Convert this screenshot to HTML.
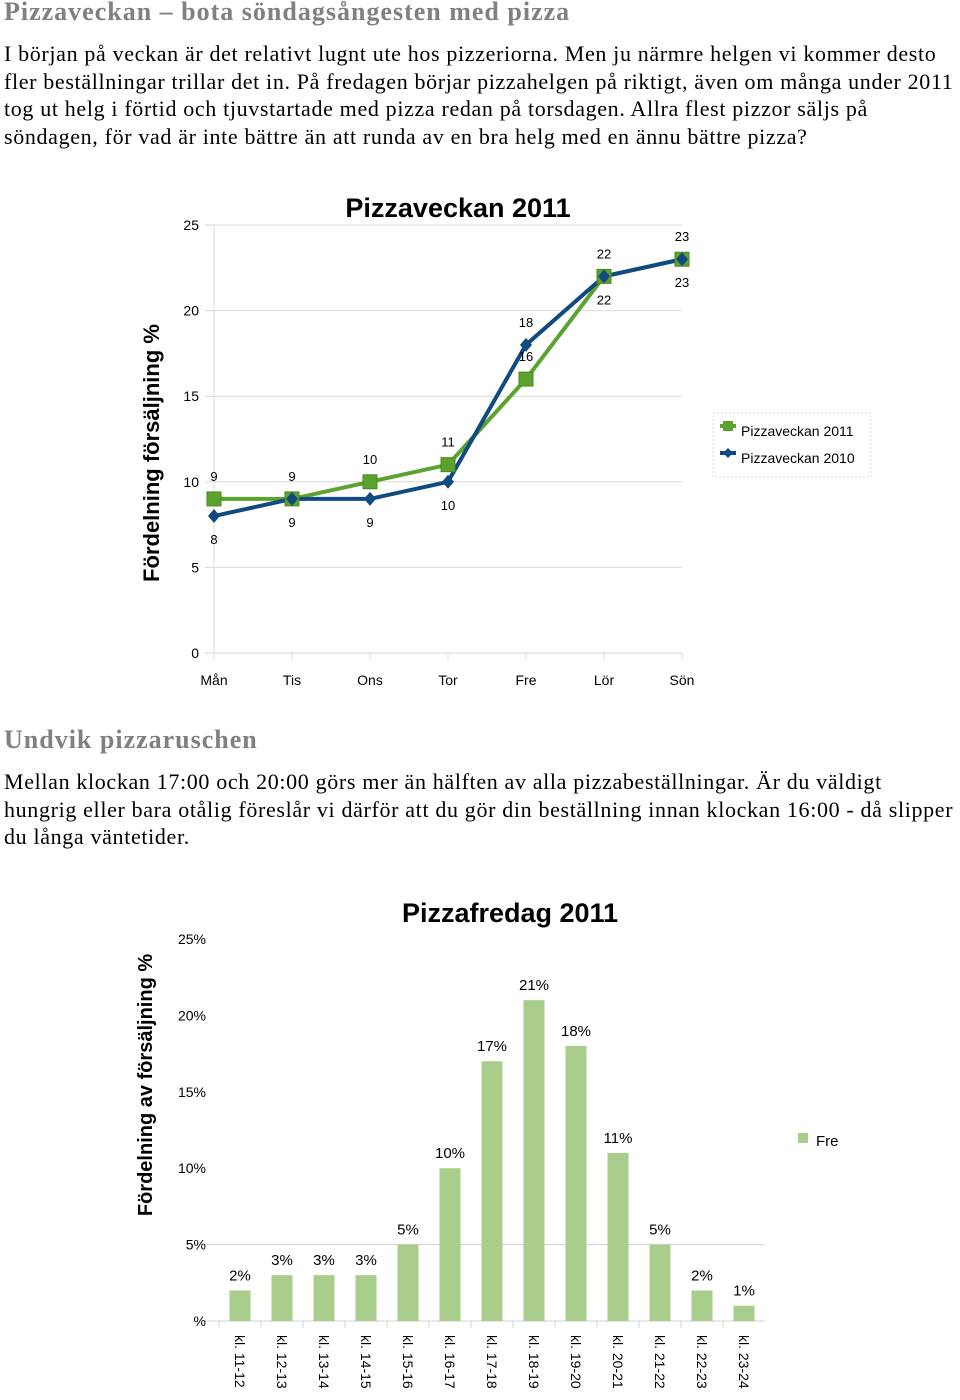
<!DOCTYPE html>
<html><head><meta charset="utf-8"><style>
body{margin:0;width:960px;height:1400px;background:#fff;overflow:hidden;font-family:"Liberation Serif",serif;position:relative}
h1,h2{position:absolute;left:4px;margin:0;color:#808080;font-size:26px;font-weight:bold;letter-spacing:1px;white-space:nowrap}
p{position:absolute;left:4px;margin:0;font-size:22px;letter-spacing:0.65px;line-height:27.5px;color:#000;width:960px;white-space:nowrap}
svg{position:absolute;left:0;top:0}
svg text{font-family:"Liberation Sans",sans-serif}
</style></head><body>
<h1 style="top:-3px">Pizzaveckan – bota söndagsångesten med pizza</h1>
<p style="top:40px">I början på veckan är det relativt lugnt ute hos pizzeriorna. Men ju närmre helgen vi kommer desto<br>fler beställningar trillar det in. På fredagen börjar pizzahelgen på riktigt, även om många under 2011<br>tog ut helg i förtid och tjuvstartade med pizza redan på torsdagen. Allra flest pizzor säljs på<br>söndagen, för vad är inte bättre än att runda av en bra helg med en ännu bättre pizza?</p>
<h2 style="top:725px">Undvik pizzaruschen</h2>
<p style="top:768px">Mellan klockan 17:00 och 20:00 görs mer än hälften av alla pizzabeställningar. Är du väldigt<br>hungrig eller bara otålig föreslår vi därför att du gör din beställning innan klockan 16:00 - då slipper<br>du långa väntetider.</p>
<svg id="c" width="960" height="1400"></svg>
<script>
const days=["Mån","Tis","Ons","Tor","Fre","Lör","Sön"];
const s2011=[9,9,10,11,16,22,23];
const s2010=[8,9,9,10,18,22,23];
const above2011=[1,1,1,1,1,0,0];
const above2010=[0,0,0,0,1,1,1];
const yTicks1=[0,5,10,15,20,25];
const hours=["kl. 11-12","kl. 12-13","kl. 13-14","kl. 14-15","kl. 15-16","kl. 16-17","kl. 17-18","kl. 18-19","kl. 19-20","kl. 20-21","kl. 21-22","kl. 22-23","kl. 23-24"];
const fre=[2,3,3,3,5,10,17,21,18,11,5,2,1];
const yTicks2=[0,5,10,15,20,25];
const svg=document.getElementById('c');const NS="http://www.w3.org/2000/svg";
function mk(t,a,txt){const e=document.createElementNS(NS,t);for(const k in a)e.setAttribute(k,a[k]);if(txt!==undefined)e.textContent=txt;svg.appendChild(e);return e;}
const x1=i=>214+i*78, y1=v=>653-v*17.12;
let e;
e=mk('text',{x:458,y:217,'font-size':27,'font-weight':'bold','text-anchor':'middle'},'Pizzaveckan 2011');

yTicks1.forEach(v=>{e=mk('line',{x1:205,x2:682,y1:y1(v),y2:y1(v),stroke:'#d9d9d9'});
e=mk('text',{x:199,y:y1(v)+5,'font-size':14,'text-anchor':'end'},String(v));});
mk('line',{x1:214,x2:214,y1:y1(25),y2:660,stroke:'#d9d9d9'});
days.forEach((d,i)=>{e=mk('line',{x1:x1(i),x2:x1(i),y1:653,y2:660,stroke:'#d9d9d9'});
e=mk('text',{x:x1(i),y:685,'font-size':14,'text-anchor':'middle'},d);});
e=mk('text',{transform:'translate(159,453) rotate(-90)','font-size':22,'font-weight':'bold','text-anchor':'middle'},'Fördelning försäljning %');

e=mk('polyline',{points:s2011.map((v,i)=>x1(i)+','+y1(v)).join(' '),fill:'none',stroke:'#5ca22e','stroke-width':4});

e=mk('polyline',{points:s2010.map((v,i)=>x1(i)+','+y1(v)).join(' '),fill:'none',stroke:'#0f4a80','stroke-width':4});

s2011.forEach((v,i)=>{e=mk('rect',{x:x1(i)-7,y:y1(v)-7,width:14,height:14,fill:'#5ca22e',stroke:'#4a8a20'});
e=mk('text',{x:x1(i),y:above2011[i]?y1(v)-18:y1(v)+28,'font-size':13,'text-anchor':'middle'},String(v));});
s2010.forEach((v,i)=>{e=mk('path',{d:`M${x1(i)},${y1(v)-7}l6,7l-6,7l-6,-7z`,fill:'#0f4a80'});
e=mk('text',{x:x1(i),y:above2010[i]?y1(v)-18:y1(v)+28,'font-size':13,'text-anchor':'middle'},String(v));});
mk('rect',{x:713,y:413,width:158,height:64,fill:'none',stroke:'#ddd','stroke-dasharray':'2,2'});
mk('line',{x1:720,x2:736,y1:426,y2:426,stroke:'#5ca22e','stroke-width':4});mk('rect',{x:723,y:421,width:10,height:10,fill:'#5ca22e'});
e=mk('text',{x:741,y:436,'font-size':14},'Pizzaveckan 2011');
mk('line',{x1:720,x2:736,y1:453,y2:453,stroke:'#0f4a80','stroke-width':4});mk('path',{d:'M728,448l5,5l-5,5l-5,-5z',fill:'#0f4a80'});
e=mk('text',{x:741,y:463,'font-size':14},'Pizzaveckan 2010');
const x2=i=>240+i*42, y2=v=>1321-v*15.28;
e=mk('text',{x:510,y:922,'font-size':27,'font-weight':'bold','text-anchor':'middle'},'Pizzafredag 2011');

yTicks2.forEach(v=>{if(v===0||v===5){mk('line',{x1:205,x2:765,y1:y2(v),y2:y2(v),stroke:'#d0d0d0'});}
e=mk('text',{x:206,y:y2(v)+5,'font-size':14,'text-anchor':'end'},v===0?'%':v+'%');});
e=mk('text',{transform:'translate(152,1085) rotate(-90)','font-size':20,'font-weight':'bold','text-anchor':'middle'},'Fördelning av försäljning %');

fre.forEach((v,i)=>{mk('line',{x1:x2(i)-21,x2:x2(i)-21,y1:1321,y2:1328,stroke:'#d0d0d0'});
e=mk('rect',{x:x2(i)-10.5,y:y2(v),width:21,height:v*15.28,fill:'#a9cd8b'});
e=mk('text',{x:x2(i),y:y2(v)-10,'font-size':15,'text-anchor':'middle'},v+'%');
e=mk('text',{transform:`translate(${x2(i)-5},1335) rotate(90)`,'font-size':14},hours[i]);});
mk('rect',{x:798,y:1133,width:10,height:10,fill:'#a9cd8b'});
e=mk('text',{x:816,y:1146,'font-size':15},'Fre');
</script>
</body></html>
